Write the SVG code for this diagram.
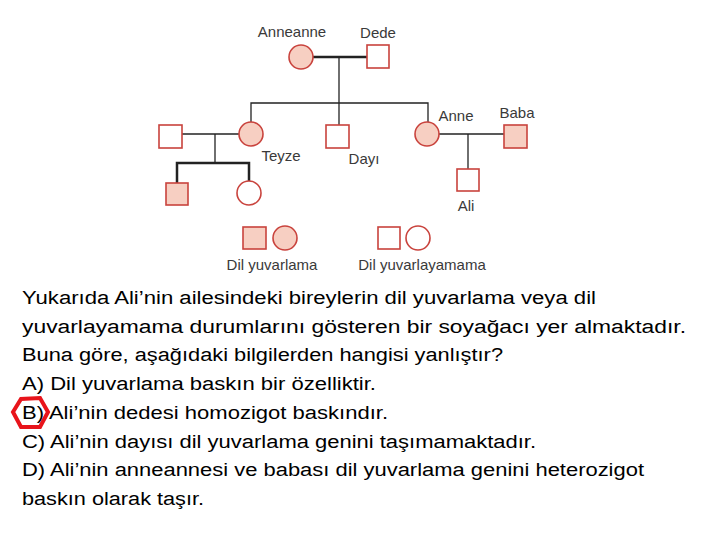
<svg xmlns="http://www.w3.org/2000/svg" width="720" height="540" viewBox="0 0 720 540">
<style>
.f{fill:#f7cfc2;stroke:#c9433d;stroke-width:1.6}
.e{fill:#fff;stroke:#c9433d;stroke-width:1.6}
.l{font-family:"Liberation Sans",Arial,sans-serif;font-size:15px;fill:#3a3a3a;text-anchor:middle}
.t{font-family:"Liberation Sans",Arial,sans-serif;font-size:18px;fill:#000}
.c{stroke:#222;fill:none;stroke-width:1.3}
.k{stroke:#222;fill:none;stroke-width:2.5}
</style>
<rect width="720" height="540" fill="#fff"/>
<g id="connectors">
<line class="k" x1="313" y1="57" x2="367" y2="57"/>
<polyline class="c" points="339,57 339,103"/>
<polyline class="c" points="251,122 251,103 428,103 428,122"/>
<line class="c" x1="339" y1="103" x2="339" y2="125"/>
<line class="c" x1="182" y1="134" x2="239" y2="134"/>
<line class="c" x1="215" y1="134" x2="215" y2="163"/>
<polyline class="k" points="177,183 177,163 249,163 249,181"/>
<line class="c" x1="439" y1="134" x2="504" y2="134"/>
<line class="c" x1="468" y1="134" x2="468" y2="169"/>
</g>
<g id="anneanne"><circle class="f" cx="301" cy="57" r="12"/><text class="l" x="292" y="37">Anneanne</text></g>
<g id="dede"><rect class="e" x="367" y="45" width="22" height="23"/><text class="l" x="378" y="38">Dede</text></g>
<g id="teyze-es"><rect class="e" x="159" y="125" width="23" height="23"/></g>
<g id="teyze"><circle class="f" cx="251" cy="134" r="12"/><text class="l" x="281" y="161">Teyze</text></g>
<g id="dayi"><rect class="e" x="326" y="125" width="23" height="23"/><text class="l" x="364" y="164">Dayı</text></g>
<g id="anne"><circle class="f" cx="427" cy="134" r="12"/><text class="l" x="456" y="121">Anne</text></g>
<g id="baba"><rect class="f" x="504" y="125" width="23" height="23"/><text class="l" x="517" y="118">Baba</text></g>
<g id="kuzen1"><rect class="f" x="166" y="183" width="22" height="22"/></g>
<g id="kuzen2"><circle class="e" cx="249" cy="193" r="12"/></g>
<g id="ali"><rect class="e" x="457" y="169" width="22" height="22"/><text class="l" x="466" y="211">Ali</text></g>
<g id="legend">
<rect class="f" x="243" y="227" width="23" height="22"/><circle class="f" cx="285" cy="238" r="12"/>
<text class="l" x="272" y="270">Dil yuvarlama</text>
<rect class="e" x="378" y="227" width="22" height="22"/><circle class="e" cx="418" cy="238" r="12"/>
<text class="l" x="422" y="270">Dil yuvarlayamama</text>
</g>
<g id="question">
<text class="t" x="22" y="304" textLength="574" lengthAdjust="spacingAndGlyphs">Yukarıda Ali’nin ailesindeki bireylerin dil yuvarlama veya dil</text>
<text class="t" x="22" y="333" textLength="664" lengthAdjust="spacingAndGlyphs">yuvarlayamama durumlarını gösteren bir soyağacı yer almaktadır.</text>
<text class="t" x="22" y="361" textLength="481" lengthAdjust="spacingAndGlyphs">Buna göre, aşağıdaki bilgilerden hangisi  yanlıştır?</text>
<text class="t" x="22" y="390" textLength="354" lengthAdjust="spacingAndGlyphs">A) Dil yuvarlama baskın bir özelliktir.</text>
<text class="t" x="22" y="419" textLength="366" lengthAdjust="spacingAndGlyphs">B) Ali’nin dedesi homozigot baskındır.</text>
<text class="t" x="22" y="448" textLength="514" lengthAdjust="spacingAndGlyphs">C) Ali’nin dayısı dil yuvarlama genini taşımamaktadır.</text>
<text class="t" x="22" y="476" textLength="622" lengthAdjust="spacingAndGlyphs">D) Ali’nin anneannesi ve babası dil yuvarlama genini heterozigot</text>
<text class="t" x="22" y="505" textLength="182" lengthAdjust="spacingAndGlyphs">baskın olarak taşır.</text>
</g>
<polygon points="13,412 21,399 40,398 48,412 40,427 21,427" fill="none" stroke="#e8141b" stroke-width="4"/>
</svg>
